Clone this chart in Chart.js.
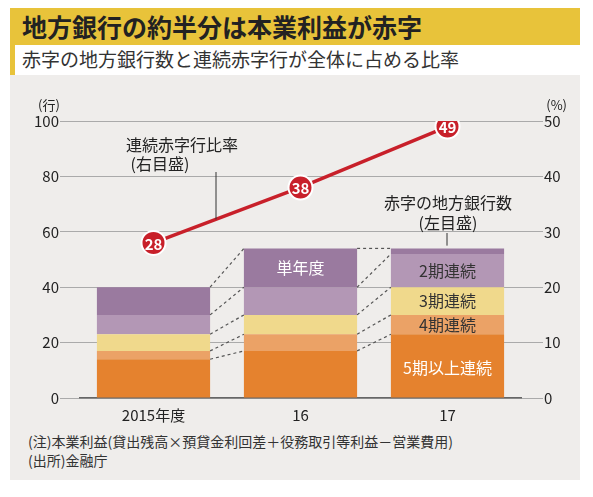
<!DOCTYPE html>
<html><head><meta charset="utf-8">
<script src="https://cdn.jsdelivr.net/npm/chart.js@4"></script>
<style>
body{margin:0;background:#fff;font-family:"Noto Sans CJK JP",sans-serif;}
#wrap{position:absolute;left:10px;top:8px;width:570px;height:472px;background:#efedeb;}
#title{position:absolute;left:0;top:0;width:570px;height:37px;background:#e8c33a;font-weight:bold;font-size:25px;line-height:37px;padding-left:12px;box-sizing:border-box;color:#222;}
#sub{position:absolute;left:0;top:37px;width:570px;height:30px;background:#fff;border-left:5px solid #e8c33a;font-size:19px;line-height:28px;padding-left:7px;box-sizing:border-box;color:#333;}
#cv{position:absolute;left:0;top:67px;}
.note{position:absolute;left:18px;font-size:14px;color:#333;}
</style></head><body>
<div id="wrap">
<div id="title">地方銀行の約半分は本業利益が赤字</div>
<div id="sub">赤字の地方銀行数と連続赤字行が全体に占める比率</div>
<div id="cv"><canvas id="c" width="570" height="352"></canvas></div>
<div class="note" style="top:423px">(注)本業利益(貸出残高×預貸金利回差＋役務取引等利益－営業費用)</div>
<div class="note" style="top:442px">(出所)金融庁</div>
</div>
<script>
const categories=["2015年度","16","17"];
const seg5=[14,17,23];
const seg4=[3,6,7];
const seg3=[6,7,10];
const seg2=[7,10,12];
const segSingle=[10,14,2];
const ratio=[28,38,49];
const leftTicks=[0,20,40,60,80,100];
const rightTicks=[0,10,20,30,40,50];
const F='"Noto Sans CJK JP",sans-serif';
const barSets=[[seg5,'#e5822e','5期以上連続'],[seg4,'#eba266','4期連続'],[seg3,'#f0d98c','3期連続'],[seg2,'#b397b5','2期連続'],[segSingle,'#9a7a9f','単年度']];
const ds=[{type:'line',label:'比率',data:ratio,yAxisID:'yr',borderColor:'#c8202a',borderWidth:3.5,pointRadius:12,pointHoverRadius:12,pointBackgroundColor:'#c8202a',pointBorderColor:'#fff',pointBorderWidth:2,order:0}];
barSets.forEach(b=>ds.push({type:'bar',label:b[2],data:b[0],backgroundColor:b[1],yAxisID:'y',stack:'s',barPercentage:0.77,categoryPercentage:1,order:1}));
const deco={id:'deco',afterDatasetsDraw(ch){
 const c=ch.ctx,y=ch.scales.y;
 c.save();c.setLineDash([3,3]);c.strokeStyle='#555';c.lineWidth=1.2;
 for(let i=0;i<2;i++){
  let a=0,b=0;
  for(let k=0;k<5;k++){
   a+=barSets[k][0][i];b+=barSets[k][0][i+1];
   const m1=ch.getDatasetMeta(1+k).data[i],m2=ch.getDatasetMeta(1+k).data[i+1];
   c.beginPath();c.moveTo(m1.x+m1.width/2,y.getPixelForValue(a));c.lineTo(m2.x-m2.width/2,y.getPixelForValue(b));c.stroke();
  }
 }
 c.restore();
 const lm=ch.getDatasetMeta(0).data;
 c.save();c.fillStyle='#fff';c.font='bold 15px '+F;c.textAlign='center';c.textBaseline='middle';
 lm.forEach((p,i)=>c.fillText(ratio[i],p.x,p.y+1));
 c.font='16px '+F;
 const lab=(bi,d,val,txt,col)=>{let s=0;for(let k=0;k<d;k++)s+=barSets[k][0][bi];const m=ch.getDatasetMeta(1+d).data[bi];c.fillStyle=col;c.fillText(txt,m.x,y.getPixelForValue(s+val/2));};
 lab(1,4,segSingle[1],'単年度','#fff');
 lab(2,3,seg2[2],'2期連続','#333');
 lab(2,2,seg3[2],'3期連続','#333');
 lab(2,1,seg4[2],'4期連続','#333');
 c.fillStyle='#fff';c.fillText('5期以上連続',ch.getDatasetMeta(1).data[2].x,y.getPixelForValue(11));
 c.fillStyle='#222';c.font='16px '+F;
 c.fillText('連続赤字行比率',172,70);c.fillText('(右目盛)',150,89);
 c.fillText('赤字の地方銀行数',438,128);c.fillText('(左目盛)',438,148);
 c.strokeStyle='#333';c.lineWidth=1;
 const lx=206,ly=lm[0].y+(lm[1].y-lm[0].y)*(lx-lm[0].x)/(lm[1].x-lm[0].x);
 c.beginPath();c.moveTo(lx,97);c.lineTo(lx,ly);c.stroke();
 c.beginPath();c.moveTo(437,158);c.lineTo(437,y.getPixelForValue(55));c.stroke();
 c.font='13px '+F;c.textAlign='left';c.fillText('(行)',28,30);c.textAlign='right';c.fillText('(%)',557,30);
 c.restore();
}};
new Chart(document.getElementById('c'),{data:{labels:categories,datasets:ds},plugins:[deco],
options:{responsive:false,animation:false,layout:{padding:{top:46,left:0,right:0,bottom:0}},
plugins:{legend:{display:false},tooltip:{enabled:false}},
scales:{
 x:{grid:{display:false},border:{color:'#666',width:1.5},ticks:{color:'#222',font:{size:15,family:F},padding:0},afterFit(s){s.height=29;}},
 y:{position:'left',min:0,max:100,afterBuildTicks(s){s.ticks=leftTicks.map(v=>({value:v}));},grid:{color:'#aaa',tickLength:20},border:{display:false},ticks:{color:'#222',font:{size:15,family:F},padding:1},afterFit(s){s.width=70;}},
 yr:{position:'right',min:0,max:50,afterBuildTicks(s){s.ticks=rightTicks.map(v=>({value:v}));},grid:{drawOnChartArea:false,color:'#aaa',tickLength:22},border:{display:false},ticks:{color:'#222',font:{size:15,family:F},padding:1},afterFit(s){s.width=59;}}
}}});
</script></body></html>
